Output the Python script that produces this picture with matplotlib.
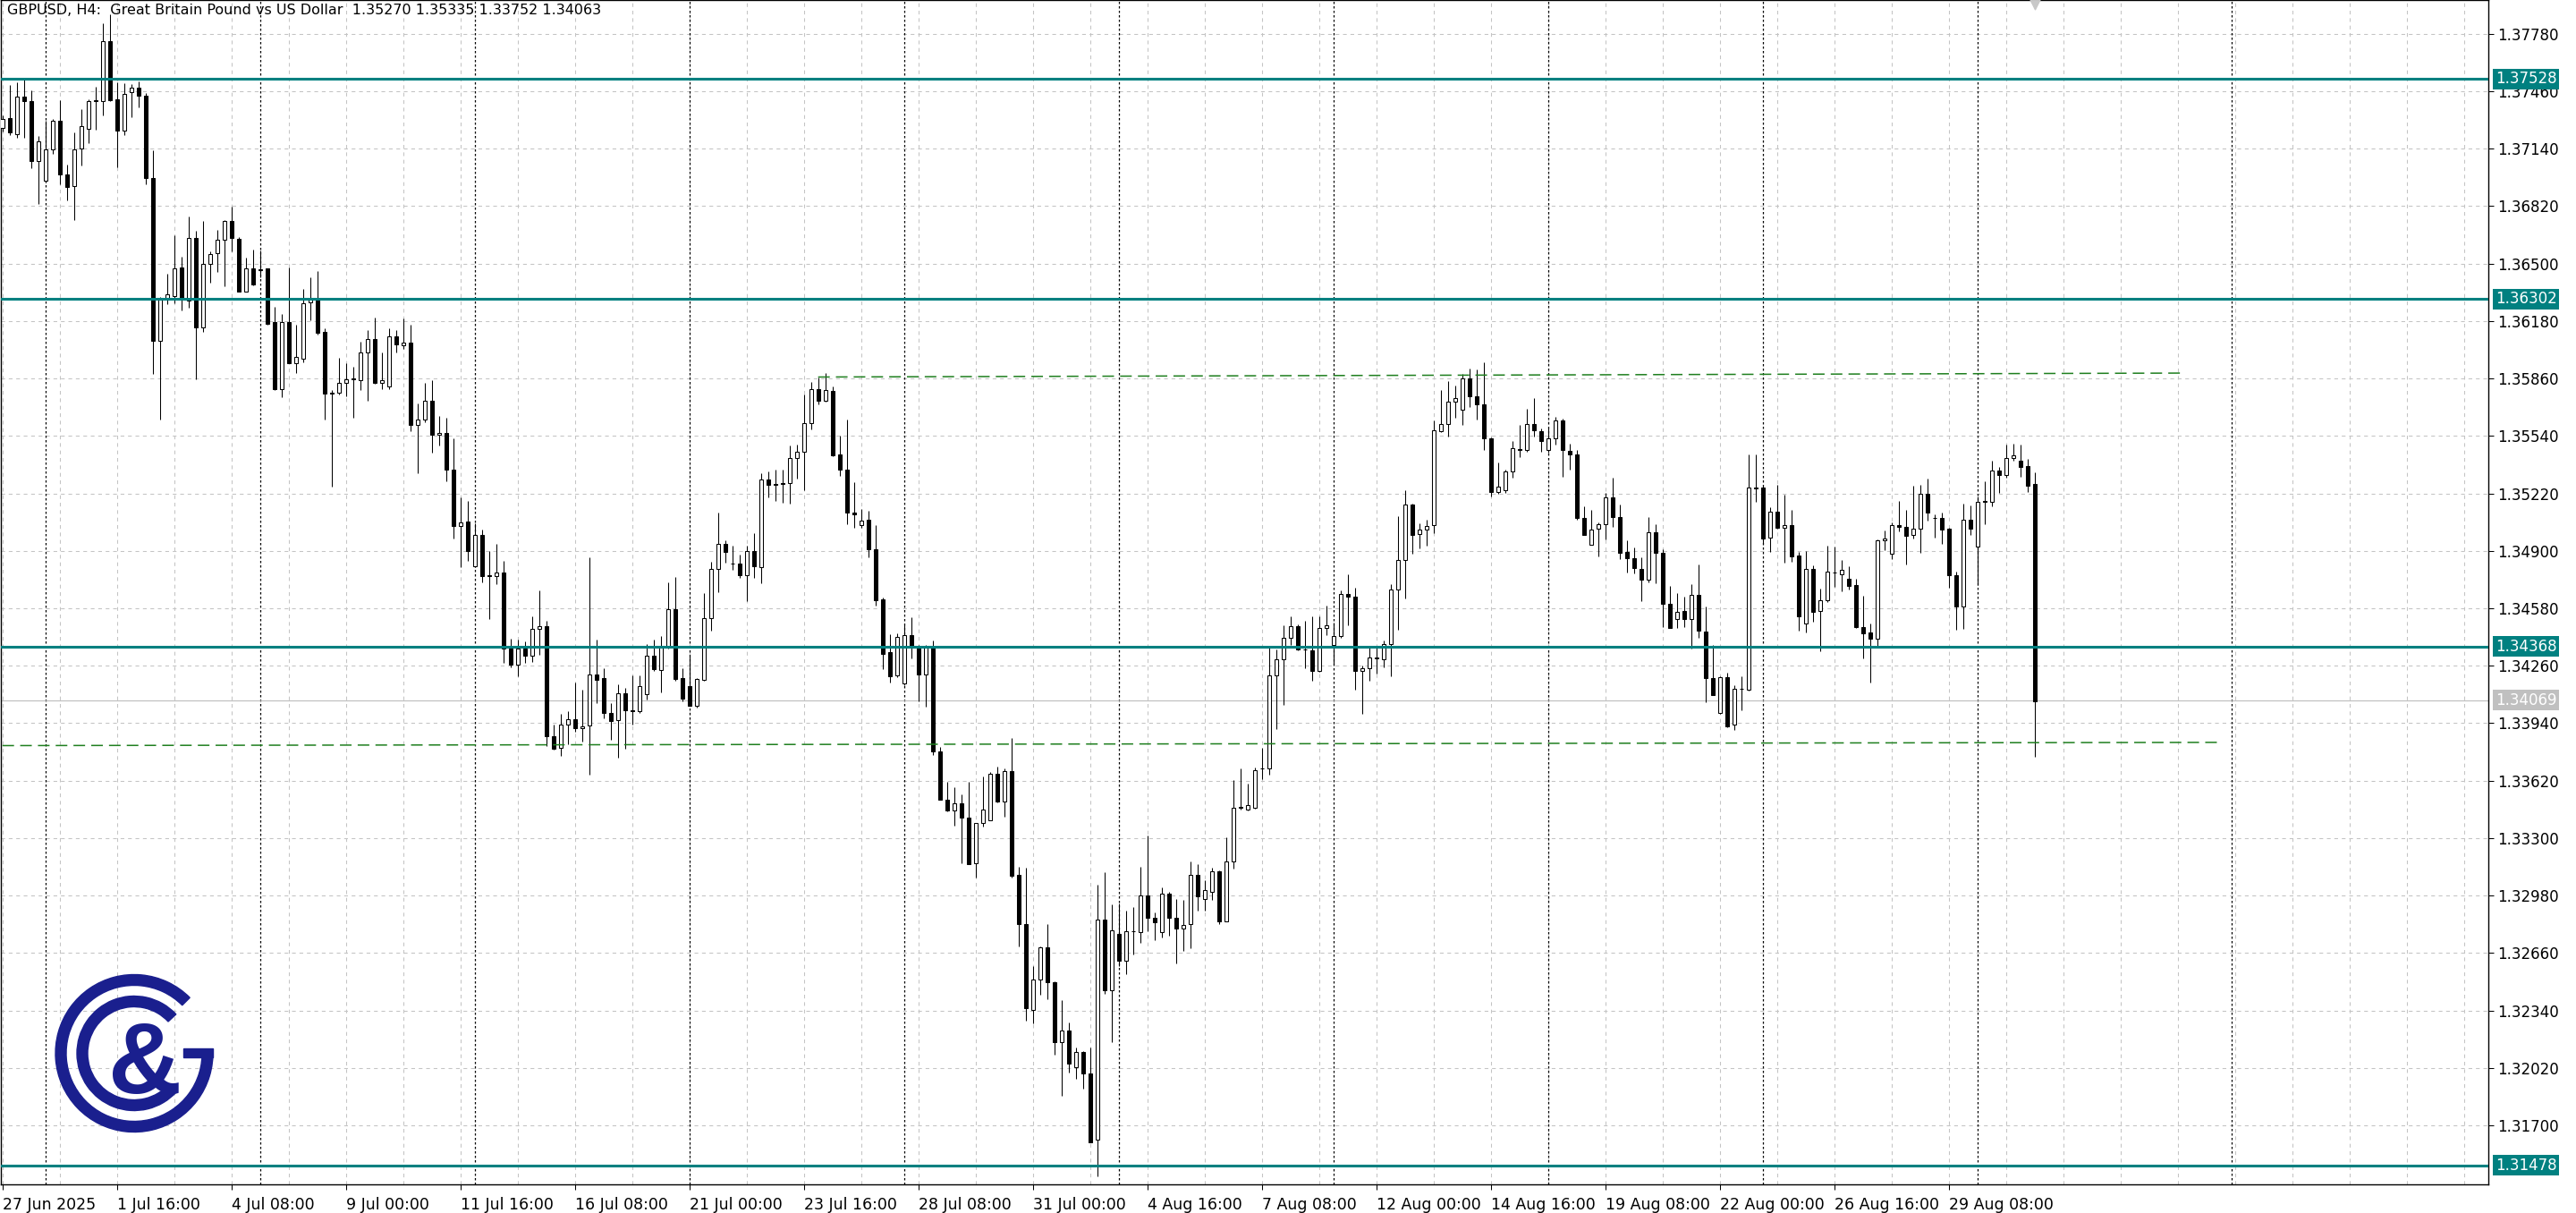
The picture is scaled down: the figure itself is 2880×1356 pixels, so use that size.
import matplotlib
matplotlib.use("Agg")
import matplotlib.pyplot as plt
from matplotlib.patches import Wedge, Rectangle
import numpy as np

plt.rcParams['font.family'] = ['DejaVu Sans']

symbol = "GBPUSD, H4:"
description = "Great Britain Pound vs US Dollar"

# H4 bars, 27 Jun 2025 00:00 -> 2 Sep 2025 08:00
opens = [
    1.37257, 1.37309, 1.37223, 1.37432, 1.37403, 1.37072, 1.36960, 1.37137, 1.37295, 1.36995,
    1.36932, 1.37143, 1.37252, 1.37406, 1.37403, 1.37737, 1.37415, 1.37243, 1.37455, 1.37480,
    1.37437, 1.36975, 1.36072, 1.36309, 1.36317, 1.36480, 1.36295, 1.36643, 1.36146, 1.36500,
    1.36560, 1.36632, 1.36737, 1.36637, 1.36346, 1.36472, 1.36463, 1.36472, 1.36175, 1.35803,
    1.36175, 1.35946, 1.35972, 1.36286, 1.36309, 1.36117, 1.35783, 1.35780, 1.35837, 1.35860,
    1.35852, 1.36006, 1.36080, 1.35837, 1.35815, 1.36095, 1.36046, 1.36060, 1.35600, 1.35629,
    1.35737, 1.35546, 1.35558, 1.35352, 1.35038, 1.35065, 1.34813, 1.34986, 1.34762, 1.34758,
    1.34779, 1.34357, 1.34268, 1.34355, 1.34315, 1.34465, 1.34478, 1.33865, 1.33804, 1.33932,
    1.33961, 1.33912, 1.33928, 1.34213, 1.34189, 1.33997, 1.33957, 1.34105, 1.34010, 1.34006,
    1.34101, 1.34315, 1.34237, 1.34360, 1.34577, 1.34189, 1.34144, 1.34036, 1.34183, 1.34524,
    1.34799, 1.34941, 1.34831, 1.34831, 1.34764, 1.34897, 1.34809, 1.35299, 1.35273, 1.35275,
    1.35275, 1.35419, 1.35452, 1.35613, 1.35802, 1.35737, 1.35792, 1.35438, 1.35354, 1.35112,
    1.35043, 1.35073, 1.34911, 1.34632, 1.34337, 1.34207, 1.34163, 1.34429, 1.34363, 1.34212,
    1.34363, 1.33781, 1.33515, 1.33453, 1.33493, 1.33415, 1.33158, 1.33386, 1.33397, 1.33657,
    1.33504, 1.33675, 1.33093, 1.32820, 1.32343, 1.32510, 1.32692, 1.32499, 1.32161, 1.32228,
    1.32026, 1.32106, 1.31988, 1.31618, 1.32847, 1.32450, 1.32765, 1.32616, 1.32780, 1.32776,
    1.32980, 1.32858, 1.32776, 1.32991, 1.32858, 1.32798, 1.32820, 1.33093, 1.32958, 1.33002,
    1.33113, 1.32838, 1.33171, 1.33471, 1.33459, 1.33471, 1.33686, 1.33686, 1.34207, 1.34296,
    1.34414, 1.34480, 1.34351, 1.34347, 1.34229, 1.34469, 1.34374, 1.34425, 1.34662, 1.34644,
    1.34230, 1.34247, 1.34303, 1.34298, 1.34379, 1.34684, 1.34849, 1.35156, 1.34991, 1.35017,
    1.35042, 1.35568, 1.35606, 1.35733, 1.35687, 1.35860, 1.35759, 1.35715, 1.35525, 1.35230,
    1.35238, 1.35340, 1.35469, 1.35461, 1.35606, 1.35568, 1.35461, 1.35525, 1.35628, 1.35459,
    1.35436, 1.35085, 1.34933, 1.35022, 1.35047, 1.35200, 1.35090, 1.34895, 1.34857, 1.34801,
    1.34741, 1.35004, 1.34887, 1.34603, 1.34521, 1.34563, 1.34519, 1.34654, 1.34450, 1.34189,
    1.33999, 1.34196, 1.33930, 1.34130, 1.34128, 1.35251, 1.35251, 1.34971, 1.35116, 1.35030,
    1.35042, 1.34874, 1.34497, 1.34801, 1.34563, 1.34627, 1.34781, 1.34771, 1.34743, 1.34708,
    1.34477, 1.34447, 1.34409, 1.34957, 1.34882, 1.35042, 1.35032, 1.34987, 1.35025, 1.35216,
    1.35085, 1.35082, 1.35025, 1.34766, 1.34592, 1.35073, 1.34924, 1.35176, 1.35175, 1.35348,
    1.35324, 1.35416, 1.35402, 1.35372, 1.35270,
]
highs = [
    1.37323, 1.37495, 1.37509, 1.37523, 1.37466, 1.37209, 1.37295, 1.37303, 1.37409, 1.37052,
    1.37229, 1.37360, 1.37415, 1.37486, 1.37837, 1.37886, 1.37509, 1.37503, 1.37500, 1.37517,
    1.37452, 1.37129, 1.36315, 1.36443, 1.36660, 1.36537, 1.36760, 1.36680, 1.36737, 1.36566,
    1.36689, 1.36743, 1.36815, 1.36646, 1.36532, 1.36580, 1.36572, 1.36472, 1.36260, 1.36217,
    1.36480, 1.36160, 1.36360, 1.36423, 1.36460, 1.36137, 1.35795, 1.35975, 1.35946, 1.35923,
    1.36066, 1.36129, 1.36200, 1.36006, 1.36137, 1.36129, 1.36195, 1.36160, 1.35723, 1.35837,
    1.35852, 1.35652, 1.35643, 1.35529, 1.35200, 1.35177, 1.35055, 1.35019, 1.34901, 1.34941,
    1.34846, 1.34410, 1.34404, 1.34396, 1.34534, 1.34679, 1.34512, 1.33932, 1.33993, 1.34007,
    1.34168, 1.34124, 1.34862, 1.34404, 1.34246, 1.34052, 1.34154, 1.34134, 1.34207, 1.34207,
    1.34380, 1.34406, 1.34425, 1.34724, 1.34754, 1.34246, 1.34315, 1.34193, 1.34665, 1.34838,
    1.35114, 1.34960, 1.34927, 1.34878, 1.34927, 1.34996, 1.35334, 1.35340, 1.35350, 1.35350,
    1.35488, 1.35492, 1.35771, 1.35842, 1.35865, 1.35889, 1.35816, 1.35541, 1.35629, 1.35281,
    1.35132, 1.35122, 1.35045, 1.34642, 1.34433, 1.34440, 1.34489, 1.34529, 1.34374, 1.34378,
    1.34400, 1.33808, 1.33615, 1.33581, 1.33542, 1.33615, 1.33386, 1.33641, 1.33668, 1.33697,
    1.33686, 1.33859, 1.33138, 1.33135, 1.32587, 1.32698, 1.32820, 1.32503, 1.32399, 1.32272,
    1.32132, 1.32115, 1.32132, 1.33038, 1.33109, 1.32931, 1.32936, 1.32898, 1.32916, 1.33142,
    1.33313, 1.32887, 1.33027, 1.32998, 1.32958, 1.32953, 1.33169, 1.33153, 1.33064, 1.33135,
    1.33120, 1.33305, 1.33624, 1.33686, 1.33604, 1.33692, 1.33803, 1.34369, 1.34351, 1.34485,
    1.34536, 1.34489, 1.34511, 1.34536, 1.34536, 1.34596, 1.34502, 1.34678, 1.34769, 1.34695,
    1.34260, 1.34361, 1.34361, 1.34400, 1.34712, 1.35093, 1.35238, 1.35162, 1.35055, 1.35073,
    1.35624, 1.35797, 1.35847, 1.35822, 1.35886, 1.35916, 1.35911, 1.35949, 1.35530, 1.35390,
    1.35352, 1.35512, 1.35601, 1.35690, 1.35753, 1.35581, 1.35588, 1.35644, 1.35637, 1.35497,
    1.35461, 1.35149, 1.35127, 1.35060, 1.35225, 1.35309, 1.35157, 1.34958, 1.34920, 1.34862,
    1.35090, 1.35047, 1.34908, 1.34704, 1.34666, 1.34646, 1.34712, 1.34824, 1.34591, 1.34376,
    1.34201, 1.34223, 1.34151, 1.34201, 1.35436, 1.35436, 1.35263, 1.35144, 1.35268, 1.35212,
    1.35128, 1.34896, 1.34899, 1.34818, 1.34688, 1.34929, 1.34926, 1.34851, 1.34816, 1.34743,
    1.34652, 1.34494, 1.34965, 1.35012, 1.35058, 1.35178, 1.35128, 1.35261, 1.35266, 1.35303,
    1.35103, 1.35112, 1.35029, 1.34783, 1.35161, 1.35153, 1.35203, 1.35286, 1.35402, 1.35369,
    1.35494, 1.35497, 1.35490, 1.35411, 1.35335,
]
lows = [
    1.37237, 1.37217, 1.37200, 1.37200, 1.37032, 1.36832, 1.36952, 1.37109, 1.36943, 1.36852,
    1.36743, 1.37046, 1.37172, 1.37246, 1.37323, 1.37403, 1.37037, 1.37217, 1.37315, 1.37372,
    1.36943, 1.35886, 1.35629, 1.36272, 1.36280, 1.36237, 1.36252, 1.35857, 1.36117, 1.36395,
    1.36452, 1.36375, 1.36566, 1.36346, 1.36346, 1.36380, 1.36423, 1.36160, 1.35795, 1.35757,
    1.35943, 1.35889, 1.35952, 1.36186, 1.36103, 1.35632, 1.35258, 1.35772, 1.35760, 1.35643,
    1.35795, 1.35737, 1.35832, 1.35803, 1.35803, 1.36003, 1.36023, 1.35566, 1.35332, 1.35618,
    1.35446, 1.35486, 1.35286, 1.34966, 1.34809, 1.34846, 1.34807, 1.34724, 1.34518, 1.34715,
    1.34276, 1.34252, 1.34199, 1.34276, 1.34282, 1.34321, 1.33810, 1.33794, 1.33757, 1.33823,
    1.33894, 1.33839, 1.33652, 1.34050, 1.33967, 1.33845, 1.33747, 1.33800, 1.33932, 1.33997,
    1.34071, 1.34233, 1.34111, 1.34355, 1.34174, 1.34060, 1.34036, 1.34026, 1.34178, 1.34455,
    1.34671, 1.34833, 1.34793, 1.34748, 1.34622, 1.34750, 1.34719, 1.35196, 1.35177, 1.35167,
    1.35161, 1.35301, 1.35236, 1.35576, 1.35718, 1.35733, 1.35427, 1.35318, 1.35049, 1.35029,
    1.35029, 1.34866, 1.34597, 1.34242, 1.34164, 1.34196, 1.34152, 1.34303, 1.34063, 1.34030,
    1.33763, 1.33515, 1.33448, 1.33371, 1.33158, 1.33153, 1.33082, 1.33364, 1.33397, 1.33497,
    1.33419, 1.33080, 1.32698, 1.32283, 1.32270, 1.32425, 1.32403, 1.32095, 1.31862, 1.31993,
    1.31959, 1.31906, 1.31607, 1.31418, 1.32432, 1.32161, 1.32587, 1.32543, 1.32654, 1.32714,
    1.32780, 1.32732, 1.32747, 1.32758, 1.32603, 1.32669, 1.32687, 1.32894, 1.32894, 1.32953,
    1.32820, 1.32838, 1.33131, 1.33457, 1.33453, 1.33464, 1.33630, 1.33653, 1.33908, 1.34041,
    1.34378, 1.34345, 1.34245, 1.34178, 1.34225, 1.34429, 1.34267, 1.34414, 1.34485, 1.34125,
    1.33993, 1.34176, 1.34217, 1.34252, 1.34201, 1.34458, 1.34633, 1.34882, 1.34913, 1.34928,
    1.34996, 1.35560, 1.35538, 1.35639, 1.35601, 1.35703, 1.35631, 1.35461, 1.35205, 1.35216,
    1.35225, 1.35306, 1.35423, 1.35454, 1.35538, 1.35454, 1.35446, 1.35492, 1.35314, 1.35352,
    1.35073, 1.34989, 1.34933, 1.34870, 1.34964, 1.35035, 1.34852, 1.34781, 1.34776, 1.34621,
    1.34725, 1.34717, 1.34476, 1.34468, 1.34471, 1.34476, 1.34354, 1.34413, 1.34057, 1.34095,
    1.33994, 1.33918, 1.33904, 1.34010, 1.34120, 1.35174, 1.34939, 1.34895, 1.35022, 1.34836,
    1.34838, 1.34456, 1.34447, 1.34505, 1.34343, 1.34613, 1.34701, 1.34676, 1.34683, 1.34469,
    1.34303, 1.34165, 1.34372, 1.34904, 1.34854, 1.35007, 1.34826, 1.34970, 1.34891, 1.35070,
    1.34975, 1.34941, 1.34696, 1.34459, 1.34464, 1.34990, 1.34708, 1.35048, 1.35150, 1.35223,
    1.35308, 1.35402, 1.35314, 1.35228, 1.33752,
]
closes = [
    1.37303, 1.37229, 1.37432, 1.37403, 1.37072, 1.37180, 1.37137, 1.37295, 1.36995, 1.36929,
    1.37137, 1.37266, 1.37403, 1.37409, 1.37737, 1.37409, 1.37243, 1.37446, 1.37480, 1.37437,
    1.36975, 1.36072, 1.36300, 1.36329, 1.36472, 1.36300, 1.36643, 1.36146, 1.36500, 1.36552,
    1.36632, 1.36737, 1.36643, 1.36346, 1.36472, 1.36386, 1.36469, 1.36166, 1.35800, 1.36175,
    1.35946, 1.35980, 1.36280, 1.36309, 1.36115, 1.35775, 1.35778, 1.35835, 1.35857, 1.35855,
    1.36006, 1.36080, 1.35837, 1.35852, 1.36095, 1.36052, 1.36060, 1.35600, 1.35632, 1.35737,
    1.35546, 1.35558, 1.35352, 1.35038, 1.35060, 1.34901, 1.34986, 1.34758, 1.34758, 1.34777,
    1.34355, 1.34268, 1.34355, 1.34315, 1.34465, 1.34482, 1.33865, 1.33800, 1.33932, 1.33961,
    1.33912, 1.33924, 1.34213, 1.34180, 1.33997, 1.33951, 1.34105, 1.34012, 1.34008, 1.34148,
    1.34315, 1.34239, 1.34360, 1.34577, 1.34187, 1.34079, 1.34036, 1.34187, 1.34524, 1.34797,
    1.34941, 1.34895, 1.34827, 1.34764, 1.34897, 1.34813, 1.35299, 1.35269, 1.35269, 1.35271,
    1.35419, 1.35452, 1.35613, 1.35802, 1.35737, 1.35796, 1.35433, 1.35354, 1.35112, 1.35102,
    1.35069, 1.34907, 1.34626, 1.34327, 1.34203, 1.34422, 1.34429, 1.34363, 1.34212, 1.34363,
    1.33781, 1.33515, 1.33453, 1.33493, 1.33415, 1.33153, 1.33386, 1.33459, 1.33657, 1.33504,
    1.33675, 1.33091, 1.32820, 1.32354, 1.32510, 1.32692, 1.32499, 1.32161, 1.32228, 1.32044,
    1.32106, 1.31988, 1.31607, 1.32847, 1.32450, 1.32787, 1.32616, 1.32780, 1.32783, 1.32980,
    1.32854, 1.32831, 1.32991, 1.32854, 1.32798, 1.32816, 1.33093, 1.32976, 1.33009, 1.33113,
    1.32838, 1.33171, 1.33471, 1.33473, 1.33482, 1.33679, 1.33688, 1.34207, 1.34296, 1.34414,
    1.34480, 1.34351, 1.34349, 1.34229, 1.34469, 1.34485, 1.34425, 1.34662, 1.34644, 1.34229,
    1.34247, 1.34306, 1.34306, 1.34379, 1.34684, 1.34849, 1.35156, 1.34989, 1.35017, 1.35038,
    1.35573, 1.35606, 1.35733, 1.35751, 1.35860, 1.35759, 1.35715, 1.35525, 1.35230, 1.35258,
    1.35340, 1.35471, 1.35464, 1.35606, 1.35573, 1.35512, 1.35525, 1.35628, 1.35461, 1.35436,
    1.35085, 1.34989, 1.35017, 1.35047, 1.35200, 1.35090, 1.34890, 1.34857, 1.34806, 1.34741,
    1.35004, 1.34887, 1.34603, 1.34468, 1.34559, 1.34521, 1.34654, 1.34456, 1.34189, 1.34095,
    1.34196, 1.33923, 1.34133, 1.34133, 1.35251, 1.35248, 1.34966, 1.35116, 1.35030, 1.35042,
    1.34871, 1.34535, 1.34801, 1.34558, 1.34627, 1.34783, 1.34778, 1.34793, 1.34705, 1.34477,
    1.34442, 1.34409, 1.34957, 1.34967, 1.35042, 1.35032, 1.34984, 1.35025, 1.35216, 1.35115,
    1.35082, 1.35020, 1.34766, 1.34592, 1.35075, 1.35025, 1.35175, 1.35175, 1.35348, 1.35324,
    1.35416, 1.35431, 1.35369, 1.35264, 1.34063,
]

levels = [1.37528, 1.36302, 1.34368, 1.31478]
bid = 1.34069
upper_line_bars = [114, 305]
upper_line_prices = [1.35868, 1.35890]
lower_line_bars = [0, 310]
lower_line_prices = [1.33815, 1.33833]

price_ticks = [1.31700, 1.32020, 1.32340, 1.32660, 1.32980, 1.33300, 1.33620,
               1.33940, 1.34260, 1.34580, 1.34900, 1.35220, 1.35540, 1.35860,
               1.36180, 1.36500, 1.36820, 1.37140, 1.37460, 1.37780]
label_bars = [0, 16, 32, 48, 64, 80, 96, 112, 128, 144, 160, 176, 192, 208, 224, 240, 256, 272]
label_text = ["27 Jun 2025", "1 Jul 16:00", "4 Jul 08:00", "9 Jul 00:00", "11 Jul 16:00",
              "16 Jul 08:00", "21 Jul 00:00", "23 Jul 16:00", "28 Jul 08:00", "31 Jul 00:00",
              "4 Aug 16:00", "7 Aug 08:00", "12 Aug 00:00", "14 Aug 16:00", "19 Aug 08:00",
              "22 Aug 00:00", "26 Aug 16:00", "29 Aug 08:00"]
week_start_bars = [6, 36, 66, 96, 126, 156, 186, 216, 246, 276, 311.5]

teal = '#008080'
grid_gray = '#c4c4c4'
trend_green = '#1f7f1f'

W, H = 2880, 1356
fig = plt.figure(figsize=(W / 100, H / 100), dpi=100)
ax = fig.add_axes([1 / W, 32 / H, 2781 / W, 1324 / H])
ax.set_xlim(-0.2125, 347.41)
ax.set_ylim(1.31371, 1.37968)

# grid
for p in price_ticks:
    ax.axhline(p, color=grid_gray, lw=0.75, ls=(0, (4, 4)), zorder=0.5)
for b in range(0, 348, 8):
    ax.axvline(b, color=grid_gray, lw=0.75, ls=(0, (4, 4)), zorder=0.5)
for b in week_start_bars:
    ax.axvline(b, color='black', lw=0.9, ls=(0, (2, 2)), zorder=1)

ax.axhline(bid, color='#c0c0c0', lw=0.9, zorder=1.5)

# candles
x = np.arange(len(opens))
o = np.array(opens)
h = np.array(highs)
l = np.array(lows)
c = np.array(closes)
up = c >= o
ax.vlines(x, l, h, colors='black', lw=0.75, zorder=3)
body_lo = np.minimum(o, c)
body_h = np.maximum(np.abs(c - o), 0.000015)
ax.bar(x[up], body_h[up], bottom=body_lo[up], width=0.55, color='white',
       edgecolor='black', linewidth=0.75, zorder=4)
ax.bar(x[~up], body_h[~up], bottom=body_lo[~up], width=0.55, color='black',
       edgecolor='black', linewidth=0.75, zorder=4)

# levels and trend lines
for lv in levels:
    ax.axhline(lv, color=teal, lw=2.2, zorder=5)
ax.plot(upper_line_bars, upper_line_prices, color=trend_green, lw=1.1, ls=(0, (8.5, 4.5)), zorder=5)
ax.plot(lower_line_bars, lower_line_prices, color=trend_green, lw=1.1, ls=(0, (8.5, 4.5)), zorder=5)

# axes styling
for s in ax.spines.values():
    s.set_color('black')
    s.set_linewidth(1)
ax.yaxis.tick_right()
ax.set_yticks(price_ticks)
ax.set_yticklabels([f"{p:.5f}" for p in price_ticks])
ax.tick_params(axis='y', length=4, width=0.75, pad=3, labelsize=12, colors='black')
ax.set_xticks(label_bars)
ax.set_xticklabels(label_text, ha='left')
ax.tick_params(axis='x', length=4, width=0.75, pad=6, labelsize=12.5, colors='black')

for lv in levels:
    ax.annotate(f"{lv:.5f}", xy=(1, lv), xycoords=('axes fraction', 'data'),
                xytext=(8, 0), textcoords='offset pixels', ha='left', va='center',
                fontsize=12, color='white', annotation_clip=False, zorder=10,
                bbox=dict(boxstyle='square,pad=0.16', fc=teal, ec='none'))
ax.annotate(f"{bid:.5f}", xy=(1, bid), xycoords=('axes fraction', 'data'),
            xytext=(8, 0), textcoords='offset pixels', ha='left', va='center',
            fontsize=12, color='white', annotation_clip=False, zorder=10,
            bbox=dict(boxstyle='square,pad=0.16', fc='#c0c0c0', ec='none'))

# chart shift marker
ax.scatter([x[-1]], [0.996], marker='v', s=60, color='#c8c8c8',
           transform=ax.get_xaxis_transform(), clip_on=False, zorder=6)

title = (f"{symbol}  {description}  {opens[-1]:.5f} {highs[-1]:.5f} "
         f"{lows[-1]:.5f} {closes[-1]:.5f}")
fig.text(8 / W, 1 - 4 / H, title, fontsize=11.5, ha='left', va='top', color='black')

# logo
navy = '#1a1f8e'
lax = fig.add_axes([50 / W, 76 / H, 200 / W, 200 / H])
lax.set_xlim(0, 200)
lax.set_ylim(0, 200)
lax.axis('off')
lax.patch.set_alpha(0)
cx, cy = 100, 102.5
lax.add_patch(Wedge((cx, cy), 88, 45, 363, width=12, color=navy))
lax.add_patch(Rectangle((155, 98.3), 33, 9.5, color=navy))
lax.add_patch(Wedge((cx, cy), 64, 43, 318, width=12, color=navy))
lax.text(112, 58, "&", fontsize=82, color=navy, ha='center', va='baseline',
         fontweight='bold', family=['Liberation Sans', 'DejaVu Sans'])

fig.savefig("out.png", dpi=100)
